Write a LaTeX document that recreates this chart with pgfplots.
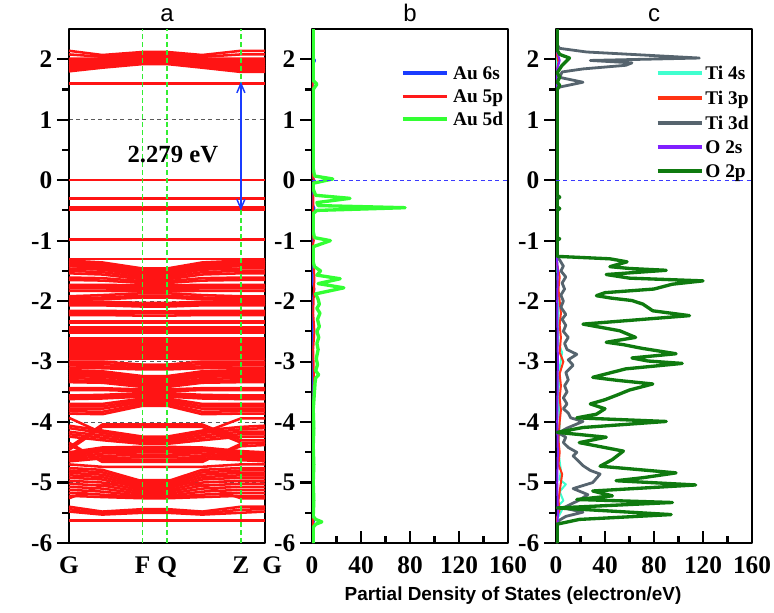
\documentclass[border=0pt]{standalone}
\usepackage{pgfplots}
\pgfplotsset{compat=1.18}
\usepackage{fontspec}
\setmainfont{Liberation Serif}
\newfontfamily\sansf{Liberation Sans}
\usetikzlibrary{arrows.meta}

\definecolor{bandred}{HTML}{FF1414}
\definecolor{gridgray}{HTML}{5A5A5A}
\definecolor{kgreen}{HTML}{33EE33}
\definecolor{arrowblue}{HTML}{1A3CFF}
\definecolor{zeroblue}{HTML}{3A3AFF}
\definecolor{ausixs}{HTML}{1A3CFF}
\definecolor{aufivep}{HTML}{FF1A1A}
\definecolor{aufived}{HTML}{33FF33}
\definecolor{tifours}{HTML}{40FFCF}
\definecolor{tithreep}{HTML}{FF3314}
\definecolor{tithreed}{HTML}{56646E}
\definecolor{otwos}{HTML}{8020FF}
\definecolor{otwop}{HTML}{0F7A0F}

\newcommand{\bd}[7]{\addplot[bandred, line width=1.9pt] coordinates {(0,#1)(0.17,#2)(0.376,#3)(0.501,#4)(0.68,#5)(0.877,#6)(1,#7)};}
\newcommand{\fb}[1]{\addplot[bandred, line width=1.9pt] coordinates {(0,#1)(1,#1)};}
% manual legend entry: color, x-start, x-end, text x, y, text
\newcommand{\lgentry}[6]{%
  \draw[#1, line width=2.3pt] (rel axis cs:#2,#5) -- (rel axis cs:#3,#5);
  \node[anchor=base west, inner sep=0pt, yshift=-4.7pt, font=\fontsize{14.5}{16}\selectfont\bfseries] at (rel axis cs:#4,#5) {#6};}

\pgfplotsset{
  panel/.style={
    scale only axis, width=147pt, height=385.5pt,
    ymin=-6, ymax=2.5,
    ytick={-6,-5,...,2},
    yticklabels={-6,-5,-4,-3,-2,-1,0,1,2},
    minor ytick={-5.5,-4.5,...,1.5},
    axis line style={line width=1.8pt},
    tick style={black, line width=1.6pt},
    major tick length=9pt, minor tick length=5pt,
    tick pos=left,
    ytick align=outside, xtick align=inside,
    ticklabel style={font=\fontsize{19}{21}\selectfont\bfseries},
    xticklabel style={yshift=-7pt},
    title style={font=\sansf\fontsize{18}{20}\selectfont, anchor=base, inner sep=0pt},
    line join=round,
  },
  dospanel/.style={
    panel,
    xmin=0, xmax=160,
    xtick={0,40,...,160}, xticklabels={0,40,80,120,160},
    minor xtick={20,60,100,140},
  },
}

\begin{document}
\begin{tikzpicture}
\path[use as bounding box] (-51.75pt,-51.75pt) rectangle (528.75pt,407.25pt);

% ---------------- panel a ----------------
\begin{axis}[panel, at={(0pt,0pt)}, title={a},
  xmin=0, xmax=1,
  xtick={0,0.376,0.501,0.877,1}, xticklabels={G,F,Q,Z,{\hspace*{11pt}G}},
  xtick style={draw=none},
  ymajorgrids, grid style={gridgray, line width=0.7pt, dash pattern=on 3pt off 2.5pt},
]
% conduction bands
\bd{2.14}{2.07}{2.12}{2.12}{2.07}{2.14}{2.14}
\bd{2.08}{2.04}{2.10}{2.10}{2.04}{2.08}{2.08}
\bd{2.01}{2.01}{2.07}{2.07}{2.01}{2.01}{2.01}
\bd{1.98}{1.99}{2.05}{2.05}{1.99}{1.97}{1.97}
\bd{1.95}{1.96}{2.02}{2.02}{1.96}{1.94}{1.94}
\bd{1.92}{1.94}{2.00}{2.00}{1.94}{1.91}{1.91}
\bd{1.89}{1.92}{1.98}{1.98}{1.92}{1.88}{1.88}
\bd{1.86}{1.90}{1.96}{1.96}{1.90}{1.85}{1.85}
\bd{1.83}{1.88}{1.94}{1.94}{1.88}{1.82}{1.82}
\bd{1.80}{1.86}{1.92}{1.92}{1.86}{1.79}{1.79}
\fb{1.60}
% gap states
\fb{0}
\fb{-0.30}
\fb{-0.45}
\fb{-0.49}
\fb{-0.98}
% valence block
\fb{-1.30}
\bd{-1.33}{-1.36}{-1.46}{-1.46}{-1.36}{-1.33}{-1.33}
\bd{-1.36}{-1.39}{-1.49}{-1.49}{-1.39}{-1.36}{-1.36}
\bd{-1.39}{-1.42}{-1.52}{-1.52}{-1.42}{-1.39}{-1.39}
\bd{-1.42}{-1.45}{-1.55}{-1.55}{-1.45}{-1.42}{-1.42}
\bd{-1.46}{-1.48}{-1.58}{-1.58}{-1.48}{-1.46}{-1.46}
\bd{-1.50}{-1.52}{-1.61}{-1.61}{-1.52}{-1.50}{-1.50}
\bd{-1.54}{-1.56}{-1.64}{-1.64}{-1.56}{-1.54}{-1.54}
\bd{-1.61}{-1.62}{-1.67}{-1.67}{-1.62}{-1.61}{-1.61}
\bd{-1.65}{-1.66}{-1.70}{-1.70}{-1.66}{-1.65}{-1.65}
\bd{-1.73}{-1.73}{-1.74}{-1.74}{-1.73}{-1.73}{-1.73}
\bd{-1.76}{-1.76}{-1.77}{-1.77}{-1.76}{-1.76}{-1.76}
\bd{-1.79}{-1.79}{-1.80}{-1.80}{-1.79}{-1.79}{-1.79}
\bd{-1.83}{-1.83}{-1.84}{-1.84}{-1.83}{-1.83}{-1.83}
\bd{-1.92}{-1.90}{-1.87}{-1.87}{-1.90}{-1.92}{-1.92}
\bd{-1.95}{-1.94}{-1.91}{-1.91}{-1.94}{-1.95}{-1.95}
\bd{-1.98}{-1.97}{-1.94}{-1.94}{-1.97}{-1.98}{-1.98}
\bd{-2.01}{-2.01}{-2.03}{-2.03}{-2.01}{-2.01}{-2.01}
\bd{-2.04}{-2.04}{-2.06}{-2.06}{-2.04}{-2.04}{-2.04}
\bd{-2.07}{-2.07}{-2.09}{-2.09}{-2.07}{-2.07}{-2.07}
\bd{-2.16}{-2.16}{-2.17}{-2.17}{-2.16}{-2.16}{-2.16}
\bd{-2.19}{-2.19}{-2.20}{-2.20}{-2.19}{-2.19}{-2.19}
\bd{-2.23}{-2.23}{-2.24}{-2.24}{-2.23}{-2.23}{-2.23}
\fb{-2.33}
\fb{-2.36}
\fb{-2.44}
\fb{-2.47}
\fb{-2.50}
\fb{-2.53}
\fb{-2.61}
\fb{-2.64}
\fb{-2.67}
\fb{-2.71}
\fb{-2.74}
\fb{-2.77}
\fb{-2.80}
\fb{-2.84}
\fb{-2.87}
\fb{-2.90}
\fb{-2.93}
\bd{-2.96}{-2.96}{-2.95}{-2.95}{-2.96}{-2.96}{-2.96}
\bd{-3.00}{-3.00}{-3.05}{-3.05}{-3.00}{-3.00}{-3.00}
\bd{-3.03}{-3.04}{-3.08}{-3.08}{-3.04}{-3.03}{-3.03}
\bd{-3.06}{-3.08}{-3.11}{-3.11}{-3.08}{-3.06}{-3.06}
\bd{-3.10}{-3.11}{-3.13}{-3.13}{-3.11}{-3.10}{-3.10}
\bd{-3.14}{-3.16}{-3.24}{-3.24}{-3.16}{-3.14}{-3.14}
\bd{-3.17}{-3.19}{-3.27}{-3.27}{-3.19}{-3.17}{-3.17}
\bd{-3.20}{-3.22}{-3.30}{-3.30}{-3.22}{-3.20}{-3.20}
\bd{-3.24}{-3.25}{-3.33}{-3.33}{-3.25}{-3.24}{-3.24}
\bd{-3.27}{-3.29}{-3.36}{-3.36}{-3.29}{-3.27}{-3.27}
\bd{-3.31}{-3.32}{-3.39}{-3.39}{-3.32}{-3.31}{-3.31}
\bd{-3.34}{-3.35}{-3.42}{-3.42}{-3.35}{-3.34}{-3.34}
\bd{-3.44}{-3.44}{-3.46}{-3.46}{-3.44}{-3.44}{-3.44}
\bd{-3.47}{-3.47}{-3.49}{-3.49}{-3.47}{-3.47}{-3.47}
\bd{-3.56}{-3.55}{-3.52}{-3.52}{-3.55}{-3.56}{-3.56}
\bd{-3.59}{-3.58}{-3.55}{-3.55}{-3.58}{-3.59}{-3.59}
\bd{-3.62}{-3.61}{-3.58}{-3.58}{-3.61}{-3.62}{-3.62}
\bd{-3.70}{-3.70}{-3.61}{-3.61}{-3.70}{-3.70}{-3.70}
\bd{-3.74}{-3.74}{-3.64}{-3.64}{-3.74}{-3.74}{-3.74}
\bd{-3.78}{-3.78}{-3.67}{-3.67}{-3.78}{-3.78}{-3.78}
\bd{-3.82}{-3.83}{-3.70}{-3.70}{-3.83}{-3.82}{-3.82}
\bd{-3.86}{-3.87}{-3.73}{-3.73}{-3.87}{-3.86}{-3.86}
\bd{-3.93}{-4.18}{-4.26}{-4.26}{-4.18}{-3.94}{-3.94}
\bd{-4.42}{-4.04}{-4.04}{-4.04}{-4.04}{-4.30}{-4.30}
\bd{-4.46}{-4.08}{-4.08}{-4.08}{-4.08}{-4.34}{-4.34}
\bd{-4.06}{-4.14}{-4.24}{-4.24}{-4.14}{-4.08}{-4.06}
\bd{-4.10}{-4.18}{-4.27}{-4.27}{-4.18}{-4.12}{-4.10}
\bd{-4.16}{-4.22}{-4.30}{-4.30}{-4.22}{-4.16}{-4.16}
\bd{-4.20}{-4.26}{-4.33}{-4.33}{-4.26}{-4.20}{-4.20}
\bd{-4.24}{-4.30}{-4.36}{-4.36}{-4.30}{-4.24}{-4.24}
\bd{-4.50}{-4.42}{-4.41}{-4.41}{-4.42}{-4.48}{-4.50}
\bd{-4.53}{-4.45}{-4.44}{-4.44}{-4.45}{-4.51}{-4.53}
\bd{-4.56}{-4.48}{-4.47}{-4.47}{-4.48}{-4.54}{-4.56}
\bd{-4.59}{-4.52}{-4.50}{-4.50}{-4.52}{-4.57}{-4.59}
\bd{-4.62}{-4.56}{-4.54}{-4.54}{-4.56}{-4.60}{-4.62}
\bd{-4.65}{-4.60}{-4.58}{-4.58}{-4.60}{-4.63}{-4.65}
\bd{-4.38}{-4.63}{-4.62}{-4.62}{-4.63}{-4.40}{-4.38}
\bd{-4.34}{-4.66}{-4.66}{-4.66}{-4.66}{-4.36}{-4.34}
\bd{-4.70}{-4.74}{-4.74}{-4.74}{-4.74}{-4.70}{-4.70}
\bd{-4.76}{-4.79}{-4.98}{-4.98}{-4.79}{-4.76}{-4.76}
\bd{-4.80}{-4.83}{-5.01}{-5.01}{-4.83}{-4.80}{-4.80}
\bd{-4.84}{-4.87}{-5.04}{-5.04}{-4.87}{-4.84}{-4.84}
\bd{-4.88}{-4.91}{-5.07}{-5.07}{-4.91}{-4.88}{-4.88}
\bd{-4.92}{-4.95}{-5.10}{-5.10}{-4.95}{-4.92}{-4.92}
\bd{-4.97}{-5.00}{-5.13}{-5.13}{-5.00}{-4.97}{-4.97}
\bd{-5.02}{-5.05}{-5.16}{-5.16}{-5.05}{-5.02}{-5.02}
\bd{-5.07}{-5.10}{-5.19}{-5.19}{-5.10}{-5.07}{-5.07}
\bd{-5.12}{-5.15}{-5.22}{-5.22}{-5.15}{-5.12}{-5.12}
\bd{-5.17}{-5.20}{-5.24}{-5.24}{-5.20}{-5.17}{-5.17}
\bd{-5.22}{-5.24}{-5.26}{-5.26}{-5.24}{-5.22}{-5.22}
\bd{-5.26}{-5.05}{-4.96}{-4.96}{-5.05}{-5.26}{-5.26}
\bd{-5.40}{-5.48}{-5.44}{-5.44}{-5.48}{-5.40}{-5.40}
\bd{-5.44}{-5.51}{-5.47}{-5.47}{-5.51}{-5.45}{-5.44}
\bd{-5.48}{-5.53}{-5.50}{-5.50}{-5.53}{-5.50}{-5.48}
\fb{-5.63}
% k-point markers
\addplot[kgreen, line width=1.1pt, dash pattern=on 3.5pt off 2.5pt] coordinates {(0.376,-6)(0.376,2.5)};
\addplot[kgreen, line width=1.1pt, dash pattern=on 3.5pt off 2.5pt] coordinates {(0.501,-6)(0.501,2.5)};
\addplot[kgreen, line width=1.1pt, dash pattern=on 3.5pt off 2.5pt] coordinates {(0.877,-6)(0.877,2.5)};
\draw[arrowblue, line width=1.1pt, {Straight Barb[length=7pt,width=6pt]}-{Straight Barb[length=7pt,width=6pt]}] (axis cs:0.877,1.63) -- (axis cs:0.877,-0.5);
\node[font=\fontsize{18.5}{20}\selectfont\bfseries] at (axis cs:0.53,0.42) {2.279 eV};
\node[rotate=90, font=\fontsize{19.5}{22}\selectfont\bfseries] at (rel axis cs:-0.286,0.5) {Energy (eV)};
\end{axis}

% ---------------- panel b ----------------
\begin{axis}[dospanel, at={(182.25pt,0pt)}, title={b}]
\addplot[ausixs, line width=1.5pt] coordinates {(0.5,-6)(0.5,-5.7)(2,-5.62)(0.5,-5.55)(0.5,-2.0)(2,-1.8)(0.5,-1.7)(0.5,-0.6)(2,-0.46)(0.5,-0.4)(0.5,-0.05)(2,0)(0.5,0.05)(0.5,1.9)(2.5,1.98)(0.5,2.05)(0.5,2.5)};
\addplot[aufivep, line width=1.5pt] coordinates {(0.5,-6)(1,-5.6)(0.5,-5.5)(1.5,-3.2)(1,-2.8)(2,-2.5)(1,-2.2)(2,-1.6)(1,-1.3)(0.5,-1.1)(1.5,-1.0)(0.5,-0.9)(1,-0.45)(1.5,0)(0.5,0.1)(0.5,2.5)};
\addplot[aufived, line width=2.5pt] coordinates {(1,-6)(1,-5.74)(3,-5.69)(8,-5.65)(3,-5.61)(1,-5.56)(1.5,-5.3)(1,-5.0)(1.5,-4.7)(1,-4.4)(1.5,-4.1)(1,-3.8)(2,-3.5)(2.5,-3.35)(3,-3.27)(5.5,-3.22)(3,-3.15)(4.5,-3.05)(3.5,-2.95)(5,-2.8)(4,-2.7)(5.5,-2.6)(4,-2.5)(6,-2.42)(4.5,-2.3)(6.5,-2.2)(4,-2.12)(6,-2.05)(5,-1.97)(3,-1.88)(26,-1.78)(5,-1.71)(23,-1.63)(4,-1.57)(7,-1.5)(2,-1.43)(1,-1.35)(1,-1.1)(15,-1.0)(2,-0.95)(1,-0.85)(1,-0.55)(4,-0.5)(76,-0.455)(5,-0.42)(4,-0.37)(31,-0.3)(3,-0.25)(1,-0.15)(1,-0.05)(17,0.02)(2,0.07)(1,0.2)(1,1.5)(4,1.59)(1,1.65)(1,2.5)};
\addplot[zeroblue, line width=0.9pt, dash pattern=on 3pt off 2.5pt] coordinates {(0,0)(160,0)};
\lgentry{ausixs}{0.464}{0.689}{0.719}{0.9144}{Au 6s}
\lgentry{aufivep}{0.464}{0.689}{0.719}{0.8696}{Au 5p}
\lgentry{aufived}{0.464}{0.689}{0.719}{0.8249}{Au 5d}
\end{axis}

% ---------------- panel c ----------------
\begin{axis}[dospanel, at={(365.25pt,0pt)}, title={c}]
\addplot[tifours, line width=1.5pt] coordinates {(0.5,-6)(1,-5.6)(5,-5.45)(2,-5.38)(6,-5.3)(3,-5.15)(8,-5.03)(3,-4.95)(4,-4.8)(2,-4.5)(3,-4.0)(2,-3.5)(3,-3.1)(5,-2.85)(2,-2.7)(2,-2.0)(1,-1.4)(0.5,-1.3)(0.5,2.5)};
\addplot[tithreep, line width=1.5pt] coordinates {(0.5,-6)(0.5,-5.6)(3,-5.45)(2,-5.3)(4,-5.0)(5,-4.86)(2,-4.7)(3,-4.5)(2,-4.3)(3,-4.0)(4,-3.8)(3,-3.6)(4,-3.4)(3,-3.2)(6,-3.0)(3,-2.85)(4,-2.6)(3,-2.4)(4,-2.2)(3,-2.0)(2,-1.8)(3,-1.6)(1,-1.4)(0.5,-1.3)(0.5,1.8)(2,1.95)(0.5,2.1)(0.5,2.5)};
\addplot[tithreed, line width=2.1pt] coordinates {(0.5,-6)(0.5,-5.7)(3,-5.62)(8,-5.56)(22,-5.49)(6,-5.42)(12,-5.36)(19,-5.29)(26,-5.2)(14,-5.1)(30,-5.0)(36,-4.86)(28,-4.8)(22,-4.72)(18,-4.64)(14,-4.56)(17,-4.5)(10,-4.42)(6,-4.34)(8,-4.25)(2,-4.18)(9,-4.1)(22,-3.99)(12,-3.93)(10,-3.85)(6,-3.78)(9,-3.7)(6,-3.6)(9,-3.5)(7,-3.4)(10,-3.3)(8,-3.18)(14,-3.06)(10,-2.97)(17,-2.88)(9,-2.8)(7,-2.7)(10,-2.6)(6,-2.5)(8,-2.4)(5,-2.3)(8,-2.22)(4,-2.1)(6,-2.0)(4,-1.9)(7,-1.8)(5,-1.7)(8,-1.6)(4,-1.5)(6,-1.42)(3,-1.32)(0.5,-1.25)(0.5,1.5)(3,1.54)(22,1.62)(3,1.7)(5,1.79)(22,1.84)(57,1.9)(62,1.94)(28,1.98)(117,2.02)(25,2.12)(3,2.18)(0.5,2.25)(0.5,2.5)};
\addplot[otwos, line width=1.5pt] coordinates {(1,-6)(1.5,-5.5)(1,-5.0)(1.5,-4.5)(1,-4.0)(1.5,-3.0)(1,-2.0)(1.5,-1.5)(0.5,-1.2)(0.5,1.8)(3,1.98)(0.5,2.15)(0.5,2.5)};
\addplot[otwop, line width=2.5pt] coordinates {(1,-6)(1,-5.72)(0.5,-5.69)(19,-5.61)(94,-5.53)(1,-5.42)(95,-5.33)(17,-5.28)(46,-5.22)(30,-5.14)(114,-5.04)(49,-4.97)(71,-4.92)(98,-4.84)(36,-4.73)(46,-4.62)(55,-4.48)(19,-4.34)(41,-4.25)(1,-4.17)(22,-4.09)(90,-3.99)(17,-3.93)(33,-3.87)(40,-3.78)(28,-3.70)(40,-3.63)(49,-3.56)(60,-3.47)(79,-3.37)(50,-3.31)(30,-3.26)(57,-3.12)(103,-3.03)(75,-2.99)(62,-2.94)(98,-2.87)(70,-2.78)(55,-2.72)(41,-2.68)(65,-2.6)(52,-2.49)(22,-2.38)(109,-2.24)(79,-2.16)(71,-2.05)(62,-1.99)(45,-1.95)(33,-1.91)(40,-1.86)(80,-1.80)(95,-1.72)(120,-1.665)(60,-1.62)(41,-1.56)(90,-1.49)(60,-1.46)(44,-1.43)(58,-1.35)(44,-1.30)(1,-1.26)(1,-0.99)(3,-0.97)(1,-0.95)(1,-0.5)(3,-0.47)(1,-0.44)(1,-0.31)(3,-0.28)(1,-0.25)(1,1.5)(3,1.57)(1,1.62)(3,1.7)(1,1.78)(5,1.9)(11,2.02)(3,2.08)(1,2.15)(1,2.5)};
\addplot[zeroblue, line width=0.9pt, dash pattern=on 3pt off 2.5pt] coordinates {(0,0)(160,0)};
\lgentry{tifours}{0.518}{0.746}{0.761}{0.9144}{Ti 4s}
\lgentry{tithreep}{0.518}{0.746}{0.761}{0.8658}{Ti 3p}
\lgentry{tithreed}{0.518}{0.746}{0.761}{0.8171}{Ti 3d}
\lgentry{otwos}{0.518}{0.746}{0.761}{0.7704}{O 2s}
\lgentry{otwop}{0.518}{0.746}{0.761}{0.7237}{O 2p}
\end{axis}

\node[font=\sansf\fontsize{14.2}{17}\selectfont\bfseries] at (333pt,-39.75pt) {Partial Density of States (electron/eV)};
\end{tikzpicture}
\end{document}
